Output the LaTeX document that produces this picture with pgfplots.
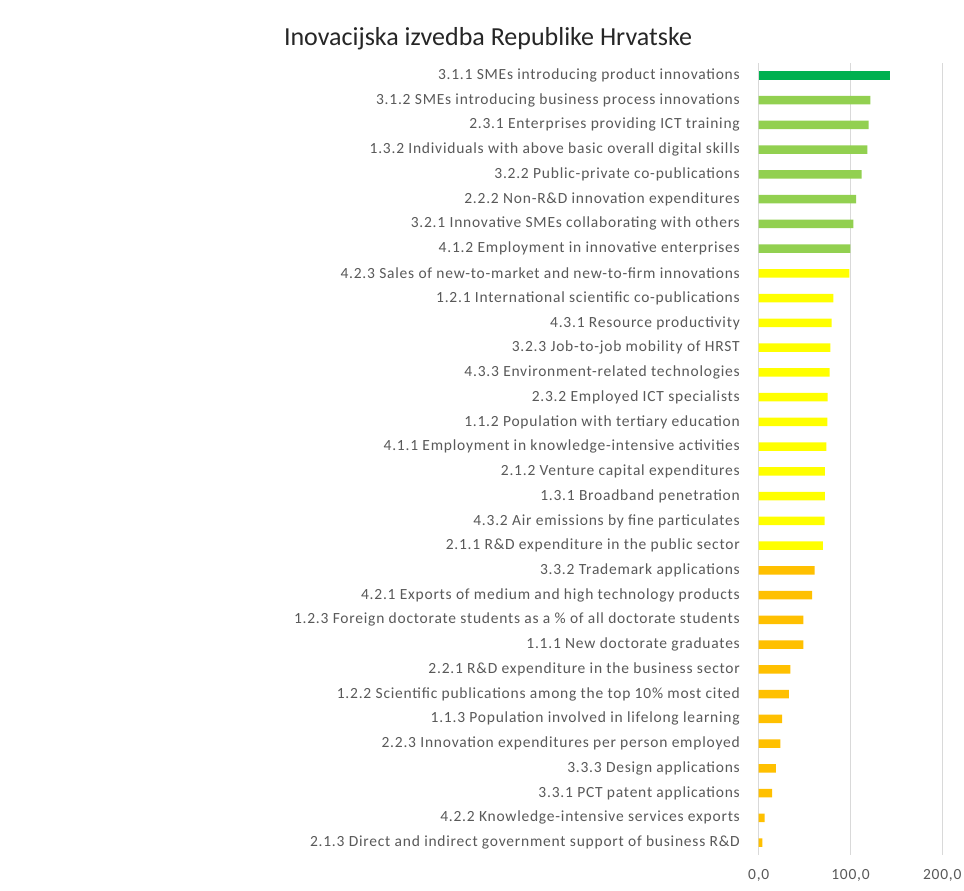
\documentclass[border=0pt]{standalone}
\usepackage{fontspec}
\setmainfont{Carlito}
\usepackage{pgfplots}
\pgfplotsset{compat=1.18}
\definecolor{lbl}{HTML}{595959}
\definecolor{ttl}{HTML}{262626}
\definecolor{gridc}{HTML}{D9D9D9}
\definecolor{dgreen}{HTML}{00B050}
\definecolor{lgreen}{HTML}{92D050}
\definecolor{yel}{HTML}{FFFF00}
\definecolor{orng}{HTML}{FFC000}
\newcommand{\lblfont}{\fontsize{15.5}{18}\selectfont\addfontfeature{LetterSpace=5}}
\begin{document}
\begin{tikzpicture}
\fill[white] (0,0) rectangle (964pt,-891pt);
\path[use as bounding box] (0,0) rectangle (964pt,-891pt);
\node[anchor=base, font=\fontsize{26}{30}\selectfont, text=ttl] at (488pt,-46pt) {Inovacijska izvedba Republike Hrvatske};
\begin{axis}[
  at={(758.7pt,-855pt)}, anchor=south west,
  scale only axis, width=183.6pt, height=792pt,
  xmin=0, xmax=200, ymin=-0.5, ymax=31.5,
  y dir=reverse,
  xbar, bar width=8.5pt,
  axis line style={draw=none},
  major tick length=0pt,
  xmajorgrids, grid style={gridc, line width=1pt},
  xtick={0,100,200},
  xticklabels={{0,0},{100,0},{200,0}},
  xticklabel style={font=\lblfont, text=lbl, anchor=north, inner sep=0pt, yshift=-14pt},
  ytick={0,...,31},
  yticklabels={
    3.1.1 SMEs introducing product innovations,
    3.1.2 SMEs introducing business process innovations,
    2.3.1 Enterprises providing ICT training,
    1.3.2 Individuals with above basic overall digital skills,
    3.2.2 Public-private co-publications,
    2.2.2 Non-R\&D innovation expenditures,
    3.2.1 Innovative SMEs collaborating with others,
    4.1.2 Employment in innovative enterprises,
    4.2.3 Sales of new-to-market and new-to-firm innovations,
    1.2.1 International scientific co-publications,
    4.3.1 Resource productivity,
    3.2.3 Job-to-job mobility of HRST,
    4.3.3 Environment-related technologies,
    2.3.2 Employed ICT specialists,
    1.1.2 Population with tertiary education,
    4.1.1 Employment in knowledge-intensive activities,
    2.1.2 Venture capital expenditures,
    1.3.1 Broadband penetration,
    4.3.2 Air emissions by fine particulates,
    2.1.1 R\&D expenditure in the public sector,
    3.3.2 Trademark applications,
    4.2.1 Exports of medium and high technology products,
    1.2.3 Foreign doctorate students as a \% of all doctorate students,
    1.1.1 New doctorate graduates,
    2.2.1 R\&D expenditure in the business sector,
    1.2.2 Scientific publications among the top 10\% most cited,
    1.1.3 Population involved in lifelong learning,
    2.2.3 Innovation expenditures per person employed,
    3.3.3 Design applications,
    3.3.1 PCT patent applications,
    4.2.2 Knowledge-intensive services exports,
    2.1.3 Direct and indirect government support of business R\&D},
  yticklabel style={font=\lblfont, text=lbl, anchor=east, inner sep=0pt, xshift=-18.7pt},
]
\addplot[draw=none, fill=dgreen, bar shift=0pt] coordinates {(143.4,0)};
\addplot[draw=none, fill=lgreen, bar shift=0pt] coordinates {
  (121.6,1) (119.8,2) (118.3,3) (112.2,4) (106.0,5) (103.0,6) (99.8,7)};
\addplot[draw=none, fill=yel, bar shift=0pt] coordinates {
  (98.7,8) (81.3,9) (79.5,10) (78.0,11) (77.3,12) (75.1,13) (74.8,14)
  (73.7,15) (72.2,16) (72.2,17) (71.9,18) (70.0,19)};
\addplot[draw=none, fill=orng, bar shift=0pt] coordinates {
  (61.0,20) (58.1,21) (48.6,22) (48.6,23) (34.5,24) (33.0,25) (25.4,26)
  (23.6,27) (18.8,28) (14.5,29) (6.5,30) (4.0,31)};
\end{axis}
\end{tikzpicture}
\end{document}
